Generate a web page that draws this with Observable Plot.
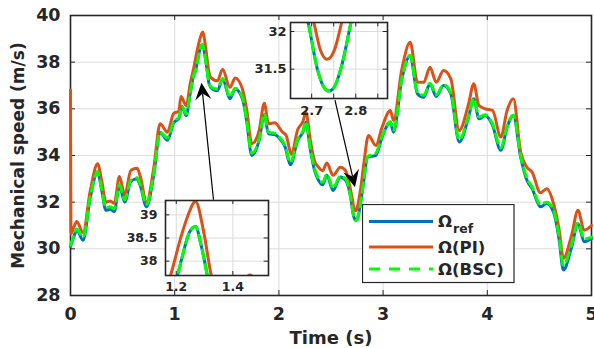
<!DOCTYPE html>
<html>
<head>
<meta charset="utf-8">
<script src="https://cdn.jsdelivr.net/npm/d3@7"></script>
<script src="https://cdn.jsdelivr.net/npm/@observablehq/plot@0.6"></script>
<style>
  html, body { margin: 0; padding: 0; background: #fff; }
  #wrap { position: relative; width: 594px; height: 348px; overflow: hidden; background: #fff; }
  #wrap svg { position: absolute; }
</style>
</head>
<body>
<div id="wrap"></div>
<script>
// ---- Data ----
const xTicks = [0, 1, 2, 3, 4, 5];
const yTicks = [28, 30, 32, 34, 36, 38, 40];

const refT = [
  0, 0.03, 0.06, 0.12, 0.19, 0.26, 0.30, 0.34, 0.38, 0.42,
  0.47, 0.52, 0.58, 0.64, 0.67, 0.73, 0.80, 0.86, 0.93, 0.99,
  1.04, 1.07, 1.11, 1.15, 1.18, 1.204, 1.218, 1.247, 1.268, 1.288,
  1.31, 1.33, 1.36, 1.41, 1.46, 1.53, 1.58, 1.65, 1.69, 1.74,
  1.81, 1.86, 1.90, 1.96, 2.02, 2.06, 2.11, 2.18, 2.23, 2.26,
  2.30, 2.34, 2.38, 2.42, 2.46, 2.52, 2.59, 2.64, 2.67, 2.692,
  2.713, 2.725, 2.739, 2.752, 2.766, 2.789, 2.815, 2.85, 2.93, 2.99,
  3.07, 3.10, 3.18, 3.26, 3.33, 3.39, 3.45, 3.51, 3.58, 3.65,
  3.73, 3.82, 3.87, 3.92, 3.98, 4.05, 4.13, 4.19, 4.25, 4.32,
  4.38, 4.43, 4.51, 4.57, 4.64, 4.69, 4.73, 4.81, 4.87, 4.93,
  5.0
];
const refV = [
  30.1, 30.5, 30.8, 30.37, 32.2, 33.3, 32.5, 31.65, 31.7, 31.6,
  32.7, 32.0, 32.9, 33.0, 32.7, 31.8, 33.2, 35.0, 34.65, 35.4,
  35.6, 36.1, 35.7, 36.7, 37.4, 37.69, 38.02, 38.63, 38.75, 38.34,
  37.69, 37.07, 36.85, 36.78, 37.28, 36.43, 36.85, 36.43, 35.5, 34.0,
  34.65, 35.75, 34.93, 34.9, 34.65, 34.36, 33.6, 34.65, 35.0, 35.43,
  34.3, 33.4, 32.94, 32.75, 33.15, 32.5, 33.08, 32.94, 32.6, 32.12,
  31.5, 31.29, 31.21, 31.27, 31.5, 32.12, 32.93, 33.93, 34.0, 34.79,
  35.43, 35.0, 37.28, 38.28, 36.64, 36.5, 37.07, 36.53, 37.0, 36.64,
  34.58, 35.64, 36.43, 35.57, 35.71, 35.29, 34.22, 35.21, 35.71, 33.93,
  32.94, 32.58, 31.8, 31.94, 31.51, 30.37, 29.09, 30.09, 31.09, 30.3,
  30.44
];
const bscV = [
  30.15, 30.55, 30.85, 30.5, 32.25, 33.3, 32.55, 31.75, 31.8, 31.72,
  32.75, 32.1, 32.95, 33.05, 32.75, 31.9, 33.25, 35.0, 34.75, 35.45,
  35.65, 36.1, 35.78, 36.72, 37.42, 37.69, 38.02, 38.63, 38.75, 38.34,
  37.69, 37.1, 36.9, 36.85, 37.3, 36.5, 36.88, 36.5, 35.55, 34.1,
  34.7, 35.78, 35.0, 34.95, 34.7, 34.42, 33.7, 34.7, 35.05, 35.45,
  34.35, 33.48, 33.02, 32.85, 33.2, 32.6, 33.12, 33.0, 32.62, 32.12,
  31.5, 31.29, 31.21, 31.27, 31.5, 32.12, 32.95, 33.95, 34.1, 34.83,
  35.45, 35.08, 37.3, 38.3, 36.72, 36.58, 37.1, 36.6, 37.03, 36.7,
  34.68, 35.68, 36.45, 35.65, 35.75, 35.35, 34.32, 35.25, 35.73, 34.0,
  33.02, 32.65, 31.9, 32.0, 31.6, 30.5, 29.3, 30.2, 31.12, 30.42,
  30.5
];
const piT = [
  0, 0.005, 0.03, 0.06, 0.12, 0.19, 0.26, 0.30, 0.34, 0.38,
  0.42, 0.47, 0.52, 0.58, 0.64, 0.67, 0.73, 0.80, 0.86, 0.93,
  0.99, 1.04, 1.06, 1.11, 1.15, 1.18, 1.218, 1.241, 1.268, 1.298,
  1.324, 1.345, 1.41, 1.46, 1.53, 1.58, 1.65, 1.69, 1.74, 1.81,
  1.86, 1.90, 1.96, 2.03, 2.07, 2.12, 2.18, 2.23, 2.26, 2.30,
  2.34, 2.38, 2.42, 2.46, 2.52, 2.59, 2.64, 2.68, 2.705, 2.72,
  2.735, 2.752, 2.768, 2.79, 2.815, 2.86, 2.93, 2.99, 3.07, 3.10,
  3.18, 3.26, 3.33, 3.39, 3.45, 3.51, 3.58, 3.65, 3.73, 3.82,
  3.87, 3.92, 3.98, 4.05, 4.13, 4.19, 4.25, 4.32, 4.38, 4.43,
  4.51, 4.57, 4.64, 4.69, 4.73, 4.81, 4.87, 4.93, 5.0
];
const piV = [
  36.8, 30.65, 30.9, 31.17, 30.7, 32.5, 33.65, 32.9, 32.0, 32.05,
  31.95, 33.1, 32.3, 33.37, 33.45, 33.1, 32.0, 33.5, 35.36, 35.0,
  35.8, 35.9, 36.53, 36.14, 37.1, 37.69, 38.55, 38.98, 39.29, 38.6,
  37.69, 37.35, 37.2, 37.7, 36.92, 37.32, 36.85, 36.0, 34.5, 35.07,
  36.24, 35.36, 35.4, 35.03, 34.85, 34.05, 35.1, 35.45, 35.85, 34.7,
  33.79, 33.5, 33.35, 33.68, 33.15, 33.5, 33.35, 32.7, 32.12, 31.75,
  31.63, 31.76, 32.12, 32.75, 33.65, 34.86, 34.43, 35.21, 35.93, 35.5,
  37.7, 38.85, 37.14, 37.14, 37.78, 37.14, 37.64, 37.28, 35.07, 36.2,
  37.07, 36.14, 36.0, 35.93, 34.79, 35.93, 36.43, 34.15, 33.5, 33.29,
  32.4, 32.58, 31.87, 30.8, 29.59, 30.6, 31.65, 30.8, 31.0
];

// Zoom insets
const inset1XDomain = [1.162, 1.526];
const inset1YDomain = [37.69, 39.31];
const inset1XTicks = [1.2, 1.4];
const inset1YTicks = [38, 38.5, 39];
const inset2XDomain = [2.652, 2.872];
const inset2YDomain = [31.11, 32.12];
const inset2XTicks = [2.7, 2.75, 2.8, 2.85];
const inset2XLabels = [2.7, 2.8];
const inset2YTicks = [31.5, 32];

// Annotation arrows (data coordinates): from -> to
const arrowFrom = [[1.377, 32.08], [2.543, 36.35]];
const arrowTo = [[1.262, 37.10], [2.735, 32.62]];

const seriesNames = ["ref", "PI", "BSC"];

// ---- Build tables ----
const refData = refT.map((t, i) => ({t, v: refV[i]}));
const bscData = refT.map((t, i) => ({t, v: bscV[i]}));
const piData = piT.map((t, i) => ({t, v: piV[i]}));

const BLUE = "#0072BD", ORANGE = "#D95319", GREEN = "#00FF00", INK = "#262626";
const FONT = "DejaVu Sans";

function seriesMarks(clip) {
  return [
    Plot.line(refData, {x: "t", y: "v", stroke: BLUE, strokeWidth: 3, curve: "monotone-x", clip}),
    Plot.line(piData, {x: "t", y: "v", stroke: ORANGE, strokeWidth: 3, curve: "monotone-x", clip}),
    Plot.line(bscData, {x: "t", y: "v", stroke: GREEN, strokeWidth: 3, strokeDasharray: "9,6", curve: "monotone-x", clip})
  ];
}

function inwardTicks(xt, yt, fw, fh, len) {
  return [
    Plot.tickX(xt, {x: d => d, stroke: INK, strokeWidth: 1, insetTop: fh - len}),
    Plot.tickX(xt, {x: d => d, stroke: INK, strokeWidth: 1, insetBottom: fh - len}),
    Plot.tickY(yt, {y: d => d, stroke: INK, strokeWidth: 1, insetRight: fw - len}),
    Plot.tickY(yt, {y: d => d, stroke: INK, strokeWidth: 1, insetLeft: fw - len})
  ];
}

function arrowsMark(from, to) {
  return function(...args) {
    const s = args.find(a => a && typeof a === "object" && typeof a.x === "function" && typeof a.y === "function");
    const g = d3.create("svg:g");
    for (let i = 0; i < from.length; i++) {
      const x1 = s.x(from[i][0]), y1 = s.y(from[i][1]);
      const x2 = s.x(to[i][0]), y2 = s.y(to[i][1]);
      const ang = Math.atan2(y2 - y1, x2 - x1);
      const ux = Math.cos(ang), uy = Math.sin(ang), px = -uy, py = ux;
      const L = 17, Wd = 8, N = 11;
      const bx = x2 - ux * L, by = y2 - uy * L;
      const nx = x2 - ux * N, ny = y2 - uy * N;
      g.append("line").attr("x1", x1).attr("y1", y1).attr("x2", nx).attr("y2", ny)
        .attr("stroke", "#000").attr("stroke-width", 1.2);
      g.append("path")
        .attr("d", `M${x2},${y2}L${bx + px * Wd},${by + py * Wd}L${nx},${ny}L${bx - px * Wd},${by - py * Wd}Z`)
        .attr("fill", "#000");
    }
    return g.node();
  };
}

// ---- Main chart ----
const W = 594, H = 348, mL = 70, mR = 3, mT = 15, mB = 53;
const fw = W - mL - mR, fh = H - mT - mB;

const main = Plot.plot({
  width: W, height: H,
  marginLeft: mL, marginRight: mR, marginTop: mT, marginBottom: mB,
  x: {domain: [0, 5]},
  y: {domain: [28, 40]},
  style: {fontFamily: FONT, fontWeight: "bold", fontSize: "17.5px", color: INK, background: "white", overflow: "visible"},
  marks: [
    Plot.gridX(xTicks, {stroke: "#dcdcdc", strokeOpacity: 1, strokeWidth: 1}),
    Plot.gridY(yTicks, {stroke: "#dcdcdc", strokeOpacity: 1, strokeWidth: 1}),
    Plot.axisX(xTicks, {tickSize: 0, tickPadding: 12, label: null, fill: INK, tickFormat: d => String(d)}),
    Plot.axisY(yTicks, {tickSize: 0, tickPadding: 10, label: null, fill: INK, tickFormat: d => String(d)}),
    ...inwardTicks(xTicks, yTicks, fw, fh, 5),
    Plot.frame({stroke: INK, strokeWidth: 1.6}),
    ...seriesMarks(false),
    arrowsMark(arrowFrom, arrowTo),
    Plot.text(["Time (s)"], {text: d => d, frameAnchor: "bottom", lineAnchor: "middle", dy: 43, fontSize: 18, fontWeight: "bold", fill: INK}),
    Plot.text(["Mechanical speed (m/s)"], {text: d => d, frameAnchor: "left", textAnchor: "middle", lineAnchor: "middle", rotate: -90, dx: -52, fontSize: 17, fontWeight: "bold", fill: INK})
  ]
});

// ---- Insets ----
function makeInset({xDomain, yDomain, xGrid, xLabels, yGrid, fW, fH, yPad, fontSize}) {
  const iL = 44, iR = 4, iT = 4, iB = 22;
  const svg = Plot.plot({
    width: Math.round(fW + iL + iR), height: Math.round(fH + iT + iB),
    marginLeft: iL, marginRight: iR, marginTop: iT, marginBottom: iB,
    x: {domain: xDomain},
    y: {domain: yDomain},
    style: {fontFamily: FONT, fontWeight: "bold", fontSize: fontSize + "px", color: INK, background: "transparent", overflow: "visible"},
    marks: [
      Plot.frame({fill: "white", stroke: null}),
      Plot.gridX(xGrid, {stroke: "#dcdcdc", strokeOpacity: 1}),
      Plot.gridY(yGrid, {stroke: "#dcdcdc", strokeOpacity: 1}),
      Plot.axisX(xLabels, {tickSize: 0, tickPadding: 7, label: null, fill: INK, tickFormat: d => String(d)}),
      Plot.axisY(yGrid, {tickSize: 0, tickPadding: yPad, label: null, fill: INK, tickFormat: d => String(d)}),
      ...inwardTicks(xGrid, yGrid, fW, fH, 4),
      ...seriesMarks(true),
      Plot.frame({stroke: INK, strokeWidth: 1.6})
    ]
  });
  return {svg, iL, iT};
}

const in1 = makeInset({xDomain: inset1XDomain, yDomain: inset1YDomain, xGrid: inset1XTicks, xLabels: inset1XTicks,
  yGrid: inset1YTicks, fW: 102.7, fH: 75, yPad: 8, fontSize: 12.5});
const in2 = makeInset({xDomain: inset2XDomain, yDomain: inset2YDomain, xGrid: inset2XTicks, xLabels: inset2XLabels,
  yGrid: inset2YTicks, fW: 96.7, fH: 75.6, yPad: 4, fontSize: 13});

const wrap = document.getElementById("wrap");
main.style.left = "0px"; main.style.top = "0px";
wrap.appendChild(main);
in1.svg.style.left = (165 - in1.iL) + "px"; in1.svg.style.top = (200 - in1.iT) + "px";
wrap.appendChild(in1.svg);
in2.svg.style.left = (290 - in2.iL) + "px"; in2.svg.style.top = (21.7 - in2.iT) + "px";
wrap.appendChild(in2.svg);

// ---- Legend ----
const lg = d3.create("svg").attr("width", 154).attr("height", 80)
  .style("left", "362px").style("top", "204px")
  .style("font-family", FONT).style("font-weight", "bold");
lg.append("rect").attr("x", 0.5).attr("y", 0.5).attr("width", 151.5).attr("height", 78)
  .attr("fill", "white").attr("stroke", INK).attr("stroke-width", 1.2);
const rows = [
  {y: 17.5, color: BLUE, dash: null, label: "Ω", sub: seriesNames[0]},
  {y: 43, color: ORANGE, dash: null, label: "Ω(" + seriesNames[1] + ")"},
  {y: 65, color: GREEN, dash: "11,9", label: "Ω(" + seriesNames[2] + ")"}
];
for (const r of rows) {
  const ln = lg.append("line").attr("x1", 7).attr("x2", 71).attr("y1", r.y).attr("y2", r.y)
    .attr("stroke", r.color).attr("stroke-width", 3);
  if (r.dash) ln.attr("stroke-dasharray", r.dash);
  const tx = lg.append("text").attr("x", 76).attr("y", r.y).attr("dy", "0.36em")
    .attr("font-size", 16.5).attr("fill", INK).text(r.label);
  if (r.sub) tx.append("tspan").attr("font-size", 12.5).attr("dy", "0.45em").attr("dx", 1).text(r.sub);
}
wrap.appendChild(lg.node());
</script>
</body>
</html>
